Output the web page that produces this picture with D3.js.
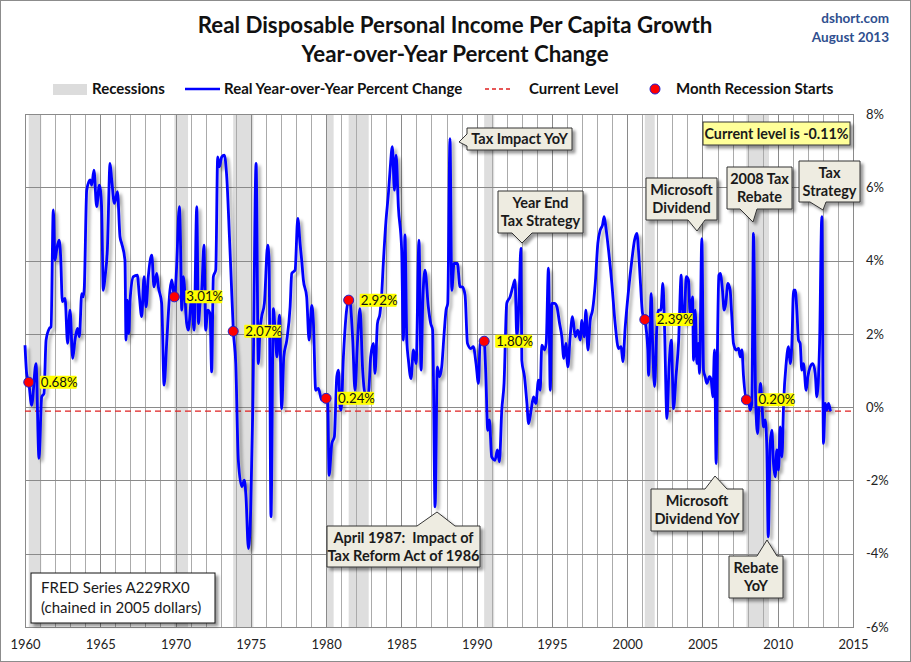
<!DOCTYPE html>
<html><head><meta charset="utf-8">
<script src="https://cdn.jsdelivr.net/npm/d3@7"></script>
<style>
html,body{margin:0;padding:0;background:#fff;}
svg{display:block;font-family:Lato,"Open Sans",sans-serif;}
</style></head>
<body><svg id="chart" width="911" height="662"></svg>
<script>
// ---------------- DATA ----------------
const dates = [
1960.00,1960.11,1960.25,1960.44,1960.73,1960.93,1961.11,1961.26,1961.40,1961.62,1961.73,1961.88,1961.99,
1962.10,1962.26,1962.37,1962.48,1962.66,1962.83,1962.99,1963.17,1963.32,1963.48,1963.61,1963.77,1963.88,1963.94,
1964.10,1964.32,1964.43,1964.58,1964.76,1964.94,1965.09,1965.20,1965.32,1965.47,1965.65,1965.76,1965.94,
1966.14,1966.31,1966.42,1966.64,1966.71,1966.80,1966.89,1966.98,1967.20,1967.46,1967.60,1967.75,1967.91,
1968.04,1968.19,1968.42,1968.57,1968.75,1968.86,1969.08,1969.24,1969.41,1969.63,1969.75,1969.92,
1970.03,1970.08,1970.25,1970.34,1970.41,1970.52,1970.74,1970.85,1971.07,1971.23,1971.41,1971.52,1971.63,1971.74,1971.89,
1972.00,1972.14,1972.29,1972.40,1972.51,1972.67,1972.80,1972.91,1973.07,1973.24,1973.40,1973.58,1973.69,1973.84,
1974.00,1974.17,1974.40,1974.57,1974.68,1974.84,1974.99,1975.13,1975.35,1975.50,1975.61,1975.72,1975.90,
1976.12,1976.21,1976.34,1976.50,1976.61,1976.74,1976.90,1977.05,1977.19,1977.39,1977.61,1977.72,1977.94,
1978.12,1978.27,1978.38,1978.49,1978.71,1978.87,1979.05,1979.16,1979.31,1979.49,1979.71,1980.00,
1980.11,1980.20,1980.38,1980.55,1980.71,1980.82,1980.93,1981.00,1981.15,1981.50,1981.59,1981.77,1981.92,
1982.08,1982.25,1982.43,1982.59,1982.81,1982.96,1983.14,1983.25,1983.41,1983.58,1983.69,1983.80,1983.98,
1984.14,1984.25,1984.40,1984.54,1984.65,1984.80,1985.02,1985.13,1985.24,1985.36,1985.47,1985.64,1985.80,1985.98,
1986.17,1986.31,1986.42,1986.57,1986.79,1986.95,1987.08,1987.24,1987.39,1987.53,1987.68,1987.84,1987.97,
1988.08,1988.23,1988.35,1988.50,1988.72,1988.90,1989.05,1989.23,1989.39,1989.61,1989.78,1989.96,
1990.12,1990.23,1990.50,1990.60,1990.74,1990.85,1991.00,1991.22,1991.38,1991.51,1991.67,1991.82,
1992.00,1992.22,1992.40,1992.55,1992.67,1992.83,1992.94,1993.00,1993.18,1993.34,1993.45,1993.62,1993.78,1993.93,
1994.11,1994.22,1994.33,1994.51,1994.62,1994.77,1994.89,1995.00,1995.17,1995.33,1995.51,1995.66,1995.79,1995.93,
1996.06,1996.21,1996.37,1996.55,1996.72,1996.88,1996.99,1997.14,1997.26,1997.39,1997.54,1997.70,1997.88,
1998.05,1998.21,1998.36,1998.47,1998.58,1998.76,1998.98,1999.20,1999.43,1999.60,1999.71,1999.87,
2000.09,2000.31,2000.49,2000.64,2000.75,2000.87,2001.02,2001.17,2001.37,2001.42,2001.60,2001.69,2001.82,2001.97,
2002.08,2002.24,2002.37,2002.48,2002.64,2002.79,2002.93,2003.08,2003.24,2003.41,2003.59,2003.63,2003.79,2003.92,
2004.07,2004.18,2004.34,2004.41,2004.52,2004.63,2004.74,2004.80,2004.96,2005.07,2005.18,2005.29,2005.47,2005.58,
2005.69,2005.80,2005.91,2006.00,2006.09,2006.18,2006.33,2006.44,2006.55,2006.69,2006.84,2006.95,
2007.06,2007.24,2007.40,2007.51,2007.62,2007.73,2007.92,2008.06,2008.17,2008.28,2008.39,2008.53,2008.66,2008.77,2008.86,2008.97,
2009.06,2009.17,2009.28,2009.37,2009.50,2009.61,2009.72,2009.83,2009.94,2010.05,2010.16,2010.28,2010.39,2010.56,2010.72,2010.83,2010.94,
2011.05,2011.16,2011.27,2011.38,2011.49,2011.60,2011.71,2011.89,2012.00,2012.16,2012.33,2012.49,2012.60,2012.78,2012.93,
2013.04,2013.15,2013.26,2013.38,2013.50
];
const values = [
1.69,0.92,0.68,0.05,1.19,-1.40,0.28,0.37,1.83,2.15,2.19,5.38,4.01,
4.29,4.56,4.10,2.88,2.97,1.74,2.65,1.33,1.83,2.15,1.92,3.10,3.01,3.28,
5.92,6.20,6.06,6.47,5.47,6.06,5.47,3.19,3.56,4.29,6.65,6.20,5.56,
5.88,4.65,4.47,4.01,1.83,2.92,2.01,2.92,3.56,3.60,3.01,2.47,3.56,
2.74,3.56,4.15,3.28,3.65,3.28,2.83,0.60,1.74,3.19,3.47,3.01,
3.47,3.92,5.47,4.29,2.65,3.56,2.28,2.10,3.01,2.10,5.47,2.28,2.83,3.19,4.42,
2.10,2.65,2.56,0.96,3.56,3.74,6.83,6.56,6.83,6.88,6.29,4.65,3.56,2.07,
1.19,-1.45,-2.17,-1.99,-2.45,-3.86,-2.81,-0.08,6.65,1.19,2.10,2.47,2.83,
4.42,4.01,-2.99,2.69,2.10,1.37,2.51,-0.04,1.37,1.83,2.74,3.65,3.74,
5.15,4.47,4.01,3.47,3.01,1.83,2.78,2.28,0.46,0.51,0.19,0.24,
0.10,-1.86,-0.99,-0.81,0.83,1.01,0.01,-0.08,1.37,2.92,2.88,1.83,0.46,
1.74,2.69,1.01,0.37,0.37,1.37,1.74,0.92,2.28,2.56,3.06,3.92,5.10,
5.83,6.47,7.11,5.92,6.88,5.47,4.29,1.83,4.70,1.83,1.28,0.78,1.56,1.19,
4.56,1.01,2.83,3.74,2.74,2.28,2.10,-2.72,1.10,0.83,1.10,2.01,2.65,
2.83,7.33,3.19,3.92,3.92,3.28,3.28,3.06,1.74,1.60,1.65,1.19,
0.65,1.74,1.80,1.01,-0.63,-0.35,-1.36,-1.45,-1.17,-1.49,-0.08,0.65,
2.83,3.01,3.28,3.47,1.92,3.10,4.33,1.28,0.83,0.10,-0.45,-0.08,0.28,0.10,
0.74,0.46,1.69,1.56,1.74,3.79,0.46,2.83,2.83,2.74,2.28,1.92,1.33,1.74,
1.10,1.92,2.47,1.92,2.10,1.83,2.37,1.92,2.65,1.56,2.37,2.65,3.38,
4.47,4.83,4.97,5.20,4.92,4.29,3.38,2.28,1.60,1.65,1.24,2.19,
3.19,4.01,4.56,4.74,4.29,3.47,2.56,2.39,1.56,0.87,3.10,1.74,0.56,2.19,
2.65,2.65,3.38,2.19,-0.31,1.19,1.83,-0.04,0.83,1.74,3.60,3.01,2.28,3.56,
3.47,2.56,3.01,1.28,2.65,1.19,1.74,0.92,4.60,1.01,0.83,0.65,0.83,0.74,
0.28,1.56,-1.54,1.74,3.60,3.65,3.19,2.65,2.83,3.38,3.19,2.47,
1.74,1.56,1.60,1.37,1.56,0.83,0.20,0.19,-0.08,0.10,4.74,0.28,-0.72,0.19,0.65,-0.08,
-0.54,-0.35,-1.17,-3.54,-0.99,-0.63,-1.54,-1.90,-1.17,-1.72,-0.54,-1.36,0.10,1.19,1.65,1.19,1.74,
3.19,3.19,2.65,1.83,1.74,1.01,1.19,0.46,0.83,1.10,1.19,0.92,0.28,1.74,5.20,
-0.99,0.10,-0.08,0.10,-0.11
];
const recessionStarts = [1960.25,1969.92,1973.83,1980.00,1981.50,1990.50,2001.17,2007.92];
const recessionEnds   = [1961.08,1970.83,1975.17,1980.50,1982.83,1991.17,2001.83,2009.42];
const startValues = [0.68,3.01,2.07,0.24,2.92,1.80,2.39,0.20];
const startLabels = ["0.68%","3.01%","2.07%","0.24%","2.92%","1.80%","2.39%","0.20%"];
const currentLevel = -0.11;
const xTickValues = [1960,1965,1970,1975,1980,1985,1990,1995,2000,2005,2010,2015];
const yTickValues = [-6,-4,-2,0,2,4,6,8];

// ---------------- LAYOUT ----------------
const svg = d3.select("#chart");
const W = 911, H = 662;
const P = {left:25, right:853, top:114, bottom:627};
const x = d3.scaleLinear().domain([1960,2015]).range([P.left,P.right]);
const y = d3.scaleLinear().domain([-6,8]).range([P.bottom,P.top]);

const defs = svg.append("defs");
const sh = defs.append("filter").attr("id","lineShadow").attr("x","-5%").attr("y","-5%").attr("width","110%").attr("height","110%");
sh.append("feGaussianBlur").attr("in","SourceAlpha").attr("stdDeviation",1.8).attr("result","b");
sh.append("feOffset").attr("in","b").attr("dx",3).attr("dy",3).attr("result","o");
sh.append("feFlood").attr("flood-color","#000").attr("flood-opacity",0.32);
sh.append("feComposite").attr("in2","o").attr("operator","in").attr("result","s");
const m1 = sh.append("feMerge"); m1.append("feMergeNode").attr("in","s"); m1.append("feMergeNode").attr("in","SourceGraphic");

const bs = defs.append("filter").attr("id","boxShadow").attr("x","-20%").attr("y","-30%").attr("width","140%").attr("height","160%");
bs.append("feGaussianBlur").attr("in","SourceAlpha").attr("stdDeviation",1.5).attr("result","b");
bs.append("feOffset").attr("in","b").attr("dx",3).attr("dy",3).attr("result","o");
bs.append("feFlood").attr("flood-color","#000").attr("flood-opacity",0.4);
bs.append("feComposite").attr("in2","o").attr("operator","in").attr("result","s");
const m2 = bs.append("feMerge"); m2.append("feMergeNode").attr("in","s"); m2.append("feMergeNode").attr("in","SourceGraphic");

// background & outer border
svg.append("rect").attr("x",0.5).attr("y",0.5).attr("width",W-1).attr("height",H-1)
  .attr("fill","#fff").attr("stroke","#8c8c8c");

// Titles
svg.append("text").attr("x",455).attr("y",33).attr("text-anchor","middle")
  .attr("font-size",22.3).attr("font-weight","bold").attr("fill","#111")
  .text("Real Disposable Personal Income Per Capita Growth");
svg.append("text").attr("x",455).attr("y",62).attr("text-anchor","middle")
  .attr("font-size",22.3).attr("font-weight","bold").attr("fill","#111")
  .text("Year-over-Year Percent Change");
svg.append("text").attr("x",889).attr("y",23).attr("text-anchor","end")
  .attr("font-size",13.5).attr("font-weight","bold").attr("fill","#2f4f8f").text("dshort.com");
svg.append("text").attr("x",889).attr("y",42).attr("text-anchor","end")
  .attr("font-size",13.5).attr("font-weight","bold").attr("fill","#2f4f8f").text("August 2013");

// Legend
const lg = svg.append("g").attr("font-size",15).attr("font-weight","bold").attr("fill","#111");
lg.append("rect").attr("x",53).attr("y",84).attr("width",34).attr("height",11).attr("fill","#dcdcdc");
lg.append("text").attr("x",92).attr("y",94).text("Recessions");
lg.append("line").attr("x1",185).attr("x2",220).attr("y1",89).attr("y2",89).attr("stroke","#0000ff").attr("stroke-width",2.5);
lg.append("text").attr("x",224).attr("y",94).text("Real Year-over-Year Percent Change");
lg.append("line").attr("x1",485).attr("x2",513).attr("y1",89).attr("y2",89).attr("stroke","#e02020").attr("stroke-width",1.3).attr("stroke-dasharray","4,3");
lg.append("text").attr("x",529).attr("y",94).text("Current Level");
lg.append("circle").attr("cx",655).attr("cy",89).attr("r",5).attr("fill","#ff0000").attr("stroke","#2020d0").attr("stroke-width",1);
lg.append("text").attr("x",676).attr("y",94).text("Month Recession Starts");

// Plot area
const plot = svg.append("g");
plot.append("rect").attr("x",P.left).attr("y",P.top).attr("width",P.right-P.left).attr("height",P.bottom-P.top).attr("fill","#fff");

// recession bands
plot.selectAll("rect.rec").data(recessionStarts).join("rect").attr("class","rec")
  .attr("x",(d)=>x(d)).attr("width",(d,i)=>x(recessionEnds[i])-x(d))
  .attr("y",P.top).attr("height",P.bottom-P.top).attr("fill","#dedede");

// grid
const yearsGrid = d3.range(1961,2015);
plot.selectAll("line.vg").data(yearsGrid).join("line").attr("class","vg")
  .attr("x1",d=>Math.round(x(d))+0.5).attr("x2",d=>Math.round(x(d))+0.5).attr("y1",P.top).attr("y2",P.bottom)
  .attr("stroke",d=>d%5===0?"#8a8a8a":"#ababab").attr("stroke-width",1);
plot.selectAll("line.hg").data(yTickValues.filter(v=>v>-6&&v<8)).join("line").attr("class","hg")
  .attr("x1",P.left).attr("x2",P.right).attr("y1",d=>Math.round(y(d))+0.5).attr("y2",d=>Math.round(y(d))+0.5)
  .attr("stroke","#8a8a8a").attr("stroke-width",1);
plot.append("rect").attr("x",P.left+0.5).attr("y",P.top+0.5).attr("width",P.right-P.left).attr("height",P.bottom-P.top)
  .attr("fill","none").attr("stroke","#8a8a8a");

// current level dashed line
plot.append("line").attr("x1",P.left).attr("x2",P.right).attr("y1",y(currentLevel)).attr("y2",y(currentLevel))
  .attr("stroke","#e02020").attr("stroke-width",1.3).attr("stroke-dasharray","6,4");

// series line
const series = dates.map((d,i)=>({date:d,value:values[i]}));
const line = d3.line().x(d=>x(d.date)).y(d=>y(d.value)).curve(d3.curveMonotoneX);
plot.append("path").datum(series).attr("d",line).attr("fill","none")
  .attr("stroke","#0000ff").attr("stroke-width",2.8).attr("stroke-linejoin","round").attr("filter","url(#lineShadow)");

// recession start dots & labels
const dg = plot.selectAll("g.dot").data(recessionStarts).join("g").attr("class","dot");
dg.append("rect").attr("x",(d)=>x(d)+11).attr("y",(d,i)=>y(startValues[i])-6.5)
  .attr("width",37).attr("height",13).attr("fill","#ffff00").attr("rx",1);
dg.append("text").attr("x",(d)=>x(d)+12).attr("y",(d,i)=>y(startValues[i])+4.5)
  .attr("font-size",13.3).attr("fill","#111").text((d,i)=>startLabels[i]);
dg.append("circle").attr("cx",d=>x(d)).attr("cy",(d,i)=>y(startValues[i])).attr("r",5)
  .attr("fill","#ff0000").attr("stroke","#2020d0").attr("stroke-width",1);

// axes
const xAxis = svg.append("g").attr("transform",`translate(0,${P.bottom})`)
  .call(d3.axisBottom(x).tickValues(xTickValues).tickFormat(d3.format("d")).tickSize(0).tickPadding(13));
xAxis.select(".domain").remove();
xAxis.selectAll("text").attr("font-size",13).attr("fill","#222").attr("font-family","Lato, sans-serif");
const yAxis = svg.append("g").attr("transform",`translate(${P.right},0)`)
  .call(d3.axisRight(y).tickValues(yTickValues).tickFormat(d=>d+"%").tickSize(0).tickPadding(13));
yAxis.select(".domain").remove();
yAxis.selectAll("text").attr("font-size",13).attr("fill","#222").attr("font-family","Lato, sans-serif");

// callouts
const callouts = [
 {lines:["Tax Impact YoY"], box:[467,128,572,150], side:"left", base:[134,146], tip:[459,142]},
 {lines:["Year End","Tax Strategy"], box:[498,191,583,233], side:"bottom", base:[512,532], tip:[522,243]},
 {lines:["Microsoft","Dividend"], box:[646,178,717,220], side:"bottom", base:[688,705], tip:[697,231]},
 {lines:["2008 Tax","Rebate"], box:[727,167,792,209], side:"bottom", base:[740,757], tip:[753,222]},
 {lines:["Tax","Strategy"], box:[799,161,860,202], side:"bottom", base:[810,826], tip:[823,210]},
 {lines:["April 1987:  Impact of","Tax Reform Act of 1986"], box:[327,526,480,567], side:"top", base:[417,455], tip:[437,512]},
 {lines:["Microsoft","Dividend YoY"], box:[651,489,743,531], side:"top", base:[705,727], tip:[715,476]},
 {lines:["Rebate","YoY"], box:[729,556,783,598], side:"top", base:[757,777], tip:[767,540]}
];
function calloutPath(c){
  const [x0,y0,x1,y1]=c.box, b=c.base, t=c.tip;
  let p=`M${x0},${y0}`;
  if(c.side==="top") p+=`L${b[0]},${y0}L${t[0]},${t[1]}L${b[1]},${y0}`;
  p+=`L${x1},${y0}L${x1},${y1}`;
  if(c.side==="bottom") p+=`L${b[1]},${y1}L${t[0]},${t[1]}L${b[0]},${y1}`;
  p+=`L${x0},${y1}`;
  if(c.side==="left") p+=`L${x0},${b[1]}L${t[0]},${t[1]}L${x0},${b[0]}`;
  return p+"Z";
}
const cg = svg.selectAll("g.callout").data(callouts).join("g").attr("class","callout");
cg.append("path").attr("d",calloutPath).attr("fill","#eeece1").attr("stroke","#333").attr("stroke-width",1)
  .attr("filter","url(#boxShadow)");
cg.each(function(c){
  const g=d3.select(this); const [x0,y0,x1,y1]=c.box; const cx=(x0+x1)/2, cy=(y0+y1)/2;
  const n=c.lines.length, lh=18;
  c.lines.forEach((s,i)=>{
    g.append("text").attr("x",cx).attr("y",cy+(i-(n-1)/2)*lh+5).attr("text-anchor","middle")
      .attr("font-size",14.5).attr("font-weight","bold").attr("fill","#1a1a1a").attr("xml:space","preserve").text(s);
  });
});

// current level box
const cl = svg.append("g");
cl.append("rect").attr("x",703).attr("y",122).attr("width",147).attr("height",23)
  .attr("fill","#ffff99").attr("stroke","#333").attr("filter","url(#boxShadow)");
cl.append("text").attr("x",776.5).attr("y",138.5).attr("text-anchor","middle").attr("font-size",14.3)
  .attr("font-weight","bold").attr("fill","#1a1a1a").text("Current level is -0.11%");

// FRED box
const fb = svg.append("g");
fb.append("rect").attr("x",31).attr("y",573).attr("width",184).attr("height",50)
  .attr("fill","#fff").attr("stroke","#111").attr("filter","url(#boxShadow)");
fb.append("text").attr("x",41).attr("y",593).attr("font-size",15).attr("fill","#1a1a1a").text("FRED Series A229RX0");
fb.append("text").attr("x",41).attr("y",613).attr("font-size",15).attr("fill","#1a1a1a").text("(chained in 2005 dollars)");
</script>
</body></html>
